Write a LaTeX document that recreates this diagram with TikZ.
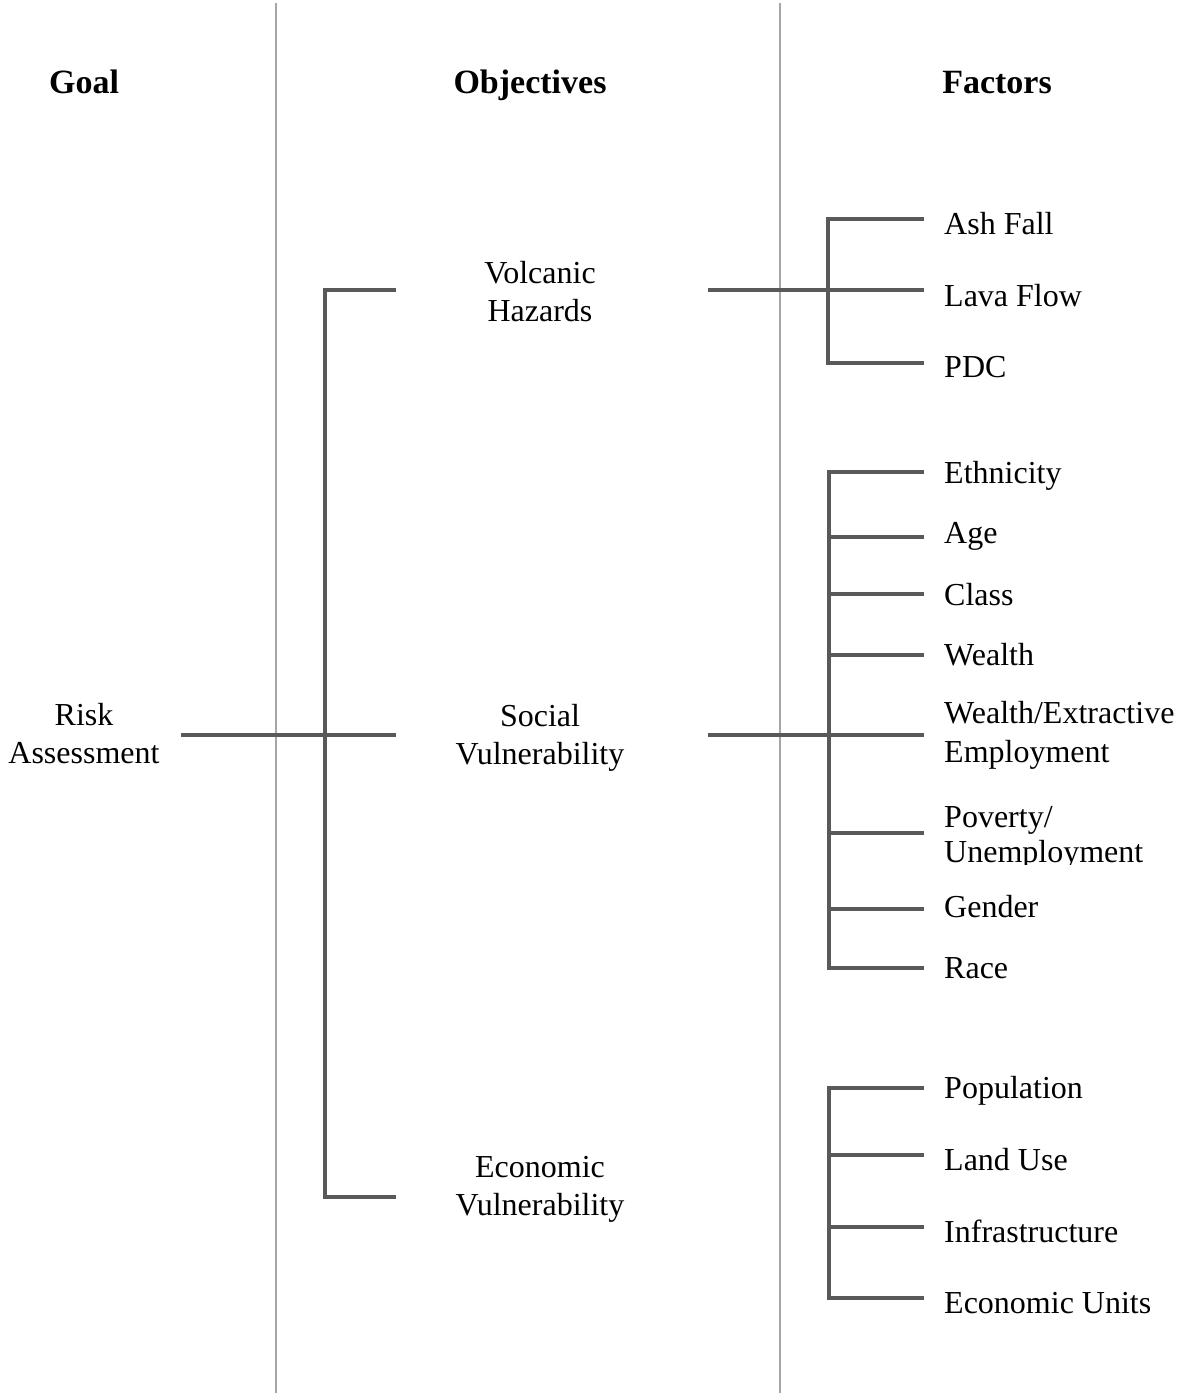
\documentclass[tikz,border=0pt]{standalone}
\usepackage{fontspec}
\setmainfont{Liberation Serif}
\definecolor{linkgray}{HTML}{595959}
\definecolor{sepgray}{HTML}{A6A6A6}
\newcommand\twoC[2]{\begin{tabular}[t]{@{}c@{}}#1\\#2\end{tabular}}
\newcommand\twoL[3][0pt]{\begin{tabular}[t]{@{}l@{}}#2\\[#1]#3\end{tabular}}
\begin{document}
\begin{tikzpicture}[x=1pt,y=-1pt,
  lbl/.style={inner sep=0pt, font=\fontsize{32}{38}\selectfont},
  hdr/.style={inner sep=0pt, font=\fontsize{34}{40}\selectfont\bfseries, anchor=base},
  fac/.style={lbl, anchor=base west},
  obj/.style={lbl, anchor=base},
  link/.style={draw=linkgray, line width=4pt, line join=miter},
  divider/.style={draw=sepgray, line width=1.3pt}]
\useasboundingbox (0,0) rectangle (1183,1395);

% column dividers
\coordinate (d1t) at (276,3);   \coordinate (d1b) at (276,1393);
\coordinate (d2t) at (780,3);   \coordinate (d2b) at (780,1393);
\draw[divider] (d1t) -- (d1b);
\draw[divider] (d2t) -- (d2b);

% headers
\node[hdr] (goal) at (84,93) {Goal};
\node[hdr] (objectives) at (530,93) {Objectives};
\node[hdr] (factors) at (997,93) {Factors};

% goal and objectives
\node[obj] (risk) at (84,725) {\twoC{Risk}{Assessment}};
\node[obj] (volc) at (540,283) {\twoC{Volcanic}{Hazards}};
\node[obj] (social) at (540,726) {\twoC{Social}{Vulnerability}};
\node[obj] (econ) at (540,1177) {\twoC{Economic}{Vulnerability}};

% factors
\node[fac] (ash) at (944,234) {Ash Fall};
\node[fac] (lava) at (944,306) {Lava Flow};
\node[fac] (pdc) at (944,377) {PDC};

\node[fac] (eth) at (944,483) {Ethnicity};
\node[fac] (age) at (944,543) {Age};
\node[fac] (class) at (944,605) {Class};
\node[fac] (wealth) at (944,665) {Wealth};
\node[fac] (wext) at (944,723) {\twoL[1pt]{Wealth/Extractive}{Employment}};
\begin{scope}
  \clip (900,780) rectangle (1183,864);
  \node[fac] (pov) at (944,827) {\twoL[-3pt]{Poverty/}{Unemployment}};
\end{scope}
\node[fac] (gender) at (944,917) {Gender};
\node[fac] (race) at (944,978) {Race};

\node[fac] (pop) at (944,1098) {Population};
\node[fac] (land) at (944,1170) {Land Use};
\node[fac] (infra) at (944,1242) {Infrastructure};
\node[fac] (eunits) at (944,1313) {Economic Units};

% --- connectors: goal -> objectives
\coordinate (gS) at (181,735);
\coordinate (oV) at (396,290);
\coordinate (oS) at (396,735);
\coordinate (oE) at (396,1197);
\coordinate (gTop) at (325,290);
\coordinate (gBot) at (325,1197);
\draw[link] (gS) -- (oS);
\draw[link] (oV) -- (gTop) -- (gBot) -- (oE);

% --- volcanic hazards -> factors
\coordinate (vS) at (708,290);
\coordinate (vTop) at (828,219);
\coordinate (vBot) at (828,363);
\coordinate (fAsh) at (924,219);
\coordinate (fLava) at (924,290);
\coordinate (fPdc) at (924,363);
\draw[link] (vS) -- (fLava);
\draw[link] (fAsh) -- (vTop) -- (vBot) -- (fPdc);

% --- social vulnerability -> factors
\coordinate (sS) at (708,735);
\coordinate (sTop) at (829,472);
\coordinate (sBot) at (829,968);
\coordinate (fEth) at (924,472);
\coordinate (fAge) at (924,537);
\coordinate (fClass) at (924,594);
\coordinate (fWealth) at (924,655);
\coordinate (fWext) at (924,735);
\coordinate (fPov) at (924,833);
\coordinate (fGender) at (924,909);
\coordinate (fRace) at (924,968);
\draw[link] (sS) -- (fWext);
\draw[link] (fEth) -- (sTop) -- (sBot) -- (fRace);
\foreach \f in {fAge,fClass,fWealth,fPov,fGender}
  \draw[link] (\f -| sTop) -- (\f);

% --- economic vulnerability -> factors
\coordinate (eTop) at (829,1088);
\coordinate (eBot) at (829,1298);
\coordinate (fPop) at (924,1088);
\coordinate (fLand) at (924,1155);
\coordinate (fInfra) at (924,1227);
\coordinate (fUnits) at (924,1298);
\draw[link] (fPop) -- (eTop) -- (eBot) -- (fUnits);
\foreach \f in {fLand,fInfra}
  \draw[link] (\f -| eTop) -- (\f);
\end{tikzpicture}
\end{document}
